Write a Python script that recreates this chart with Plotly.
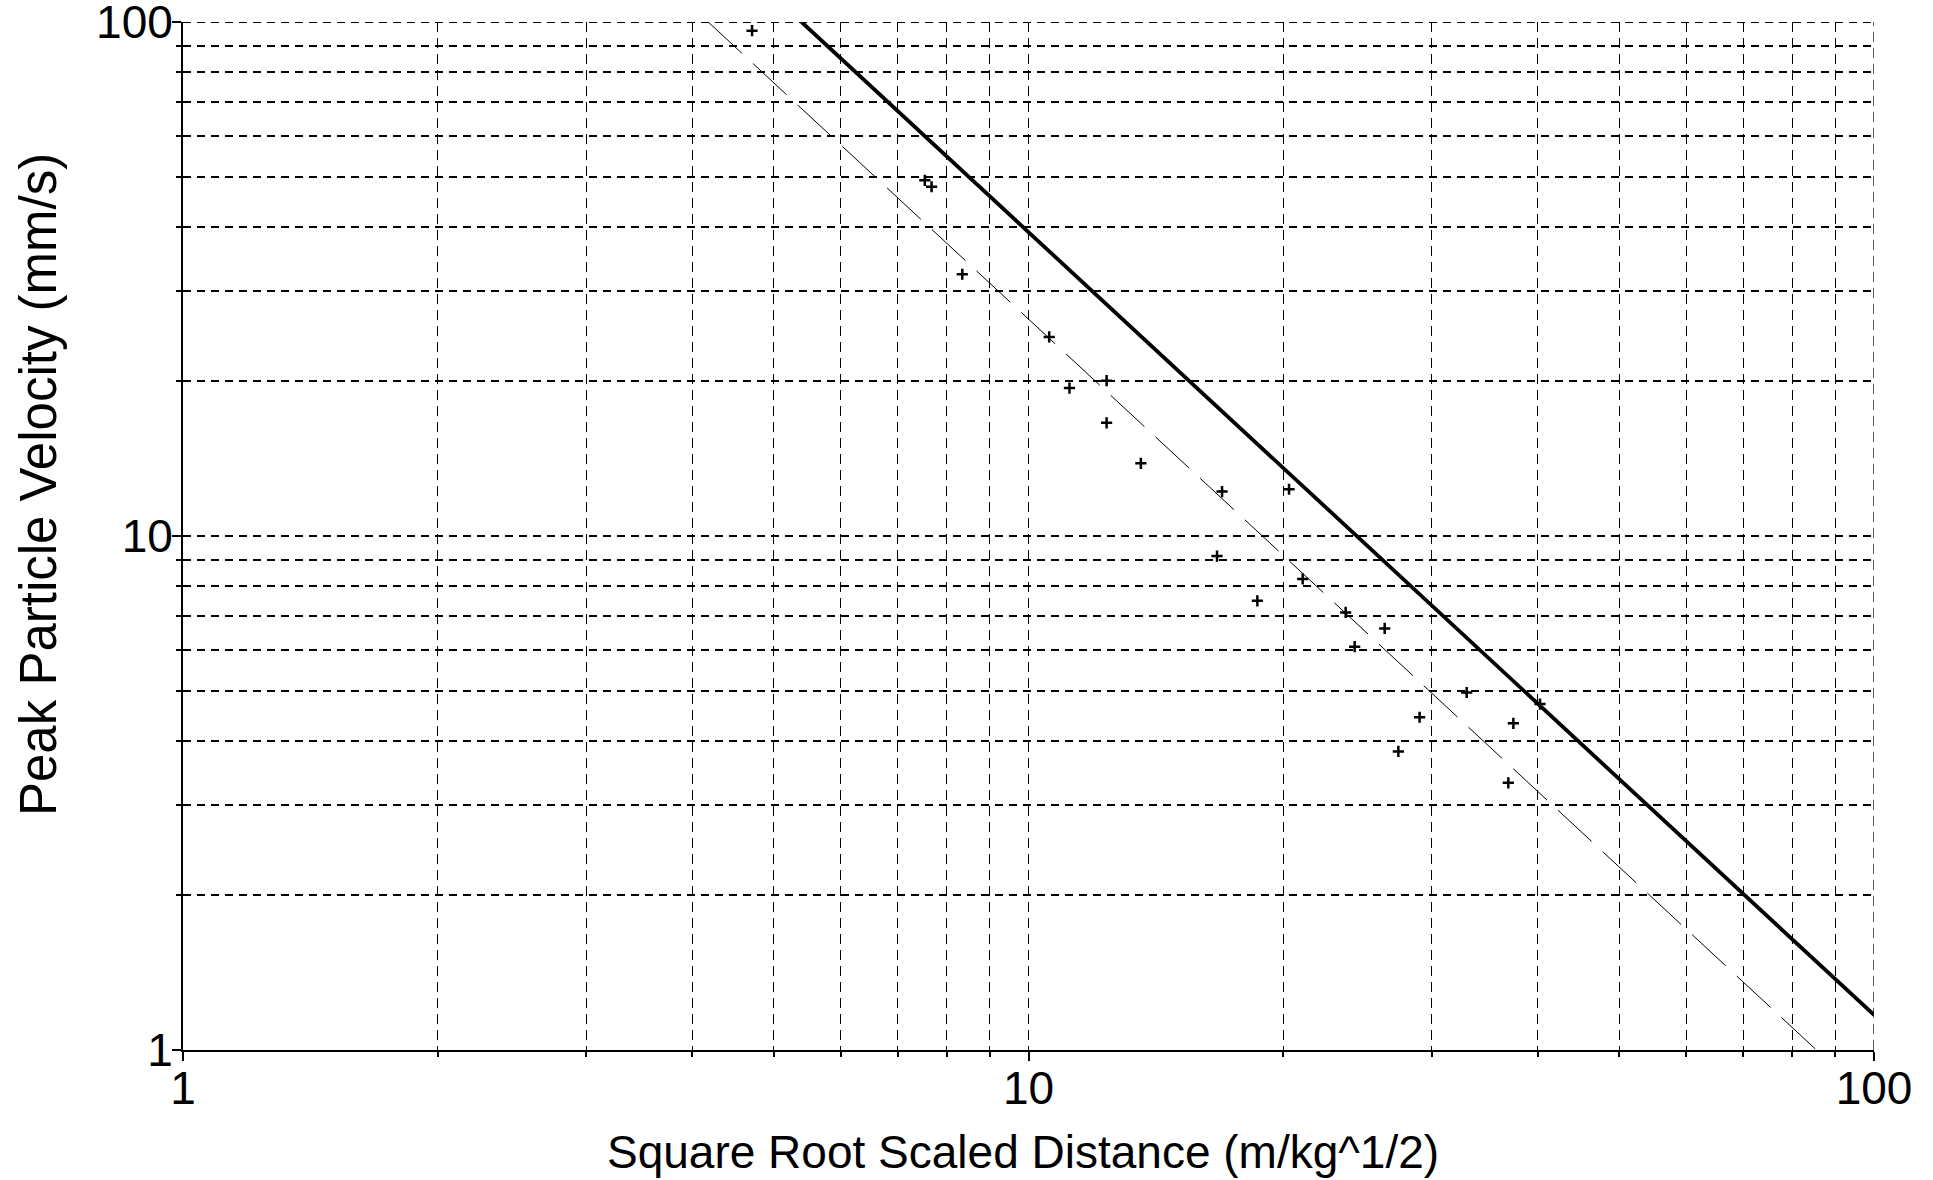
import plotly.graph_objects as go

# Measured data: square-root scaled distance (m/kg^1/2) vs peak particle velocity (mm/s)
sd = [4.71, 7.54, 7.68, 8.35, 10.58, 11.18, 12.37, 12.37, 13.58, 16.94, 20.33, 16.71,
      18.65, 21.10, 23.72, 26.38, 24.31, 32.98, 29.01, 27.38, 37.45, 40.27, 36.94]
ppv = [96.2, 49.2, 47.8, 32.3, 24.4, 19.4, 20.05, 16.6, 13.85, 12.2, 12.33, 9.14,
       7.48, 8.25, 7.10, 6.61, 6.09, 4.96, 4.44, 3.81, 4.32, 4.71, 3.31]

# Upper bound line (solid) end points
upper_sd = [5.39, 100]
upper_ppv = [100, 1.17]

# Regression line (dashed) end points
fit_sd = [4.18, 85.5]
fit_ppv = [100, 1]

major_vals = [1, 10, 100]
major_text = ["1", "10", "100"]
minor_vals = [2, 3, 4, 5, 6, 7, 8, 9, 20, 30, 40, 50, 60, 70, 80, 90]

FONT = "Liberation Sans, Arial, sans-serif"
XDASH = "10px,6px"
YDASH = "8px,6px"

fig = go.Figure()
fig.add_trace(go.Scatter(x=fit_sd, y=fit_ppv, mode="lines",
                         line=dict(color="black", width=1, dash="46px,15px"),
                         showlegend=False))
fig.add_trace(go.Scatter(x=upper_sd, y=upper_ppv, mode="lines",
                         line=dict(color="black", width=3.8),
                         showlegend=False))
fig.add_trace(go.Scatter(x=sd, y=ppv, mode="markers",
                         marker=dict(symbol="cross-thin", size=8, color="black",
                                     line=dict(color="black", width=2.5)),
                         showlegend=False))

axis_common = dict(
    type="log", range=[0, 2], showline=True, linecolor="black", linewidth=2,
    ticks="outside", ticklen=9, tickwidth=2, tickcolor="black",
    tickvals=major_vals, ticktext=major_text, ticklabeloverflow="allow",
    tickfont=dict(family=FONT, size=46, color="black"), automargin=False,
    showgrid=True, gridcolor="black", zeroline=False, mirror=False,
)

fig.update_xaxes(**axis_common, gridwidth=1.3, griddash=XDASH, ticklabelstandoff=-12,
                 minor=dict(tickvals=minor_vals, ticks="outside", ticklen=5,
                            tickwidth=2, tickcolor="black", showgrid=True,
                            gridcolor="black", gridwidth=1.3, griddash=XDASH))
fig.update_yaxes(**axis_common, gridwidth=2, griddash=YDASH,
                 ticklabelstandoff=-10,
                 minor=dict(tickvals=minor_vals, ticks="outside", ticklen=5,
                            tickwidth=2, tickcolor="black", showgrid=True,
                            gridcolor="black", gridwidth=2, griddash=YDASH))

# gridlines lying on the far edges of the plot (x = 100, y = 100)
fig.add_shape(type="line", xref="x", yref="paper", x0=major_vals[-1], x1=major_vals[-1],
              y0=0, y1=1, line=dict(color="black", width=1.3, dash=XDASH))
fig.add_shape(type="line", xref="paper", yref="y", x0=0, x1=1,
              y0=major_vals[-1], y1=major_vals[-1], line=dict(color="black", width=2, dash=YDASH))

fig.add_annotation(text="Square Root Scaled Distance (m/kg^1/2)", xref="paper", yref="paper",
                   x=0.497, y=-0.099, yanchor="middle", xanchor="center", showarrow=False,
                   font=dict(family=FONT, size=46, color="black"))
fig.add_annotation(text="Peak Particle Velocity (mm/s)", xref="paper", yref="paper",
                   x=-0.0855, y=0.55, textangle=-90, xanchor="center", yanchor="middle",
                   showarrow=False,
                   font=dict(family=FONT, size=51, color="black"))

fig.update_layout(
    width=1933, height=1180, autosize=False,
    margin=dict(l=183, r=59, t=22, b=130),
    plot_bgcolor="white", paper_bgcolor="white",
    font=dict(family=FONT, color="black"),
)

# remove the default 8px page margin so the figure fills the window exactly
fig.write_html("out.html", config={"displayModeBar": False},
               post_script="document.body.style.margin='0px';")
